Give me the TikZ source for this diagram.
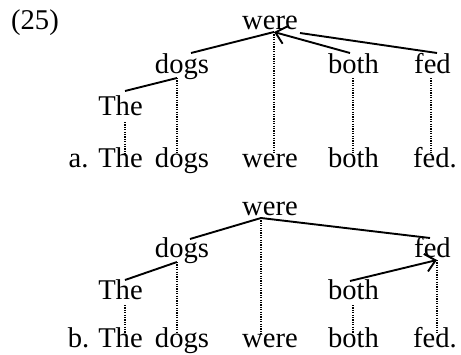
\documentclass[tikz,border=0pt]{standalone}
\usepackage{fontspec}
\setmainfont{Liberation Serif}
\usetikzlibrary{arrows.meta}

\begin{document}
\begin{tikzpicture}[x=0.5pt, y=-0.5pt,
    word/.style={anchor=base, inner sep=0pt, text height=0.66em, text depth=0.22em,
                 font=\fontsize{14.3}{17}\selectfont},
    dep/.style={line width=0.95pt},
    arc/.style={dep, -{Straight Barb[length=5pt,width=9pt]}},
    proj/.style={line width=0.8pt, dash pattern=on 0.6pt off 0.6pt}]
    \useasboundingbox (0,0) rectangle (461,354);

    % Albero (a)
    \node[word] (num) at (35,29) {(25)};
    \node[word] (wereA) at (270,29) {were};
    \node[word] (dogsA) at (182,73) {dogs};
    \node[word] (bothA) at (353.5,73) {both};
    \node[word] (fedA) at (432.5,73) {fed};
    \node[word] (TheA) at (120.5,115) {The};

    % Frase (a)
    \node[word] (labA) at (78.5,167) {a.};
    \node[word] (sTheA) at (120.5,167) {The};
    \node[word] (sdogsA) at (182,167) {dogs};
    \node[word] (swereA) at (270,167) {were};
    \node[word] (sbothA) at (353.5,167) {both};
    \node[word] (sfedA) at (435,167) {fed.};

    % Punti di attacco (a)
    \coordinate (wereA-dn) at (274,32);
    \coordinate (wereA-rt) at (300,33);
    \coordinate (dogsA-up) at (191,53);
    \coordinate (dogsA-dn) at (177,78);
    \coordinate (TheA-up) at (125,91);
    \coordinate (TheA-dn) at (125,122);
    \coordinate (bothA-up) at (350,53);
    \coordinate (bothA-dn) at (353,78);
    \coordinate (fedA-up) at (437,53);
    \coordinate (fedA-dn) at (431,78);

    % Dipendenze (a)
    \draw[dep] (wereA-dn) -- (dogsA-up);
    \draw[dep] (dogsA-dn) -- (TheA-up);
    \draw[arc] (bothA-up) -- (wereA-dn);
    \draw[dep] (fedA-up) -- (wereA-rt);

    % Proiezioni (a)
    \draw[proj] (TheA-dn) -- (TheA-dn |- sTheA.north);
    \draw[proj] (dogsA-dn) -- (dogsA-dn |- sdogsA.north);
    \draw[proj] (wereA-dn) -- (wereA-dn |- swereA.north);
    \draw[proj] (bothA-dn) -- (bothA-dn |- sbothA.north);
    \draw[proj] (fedA-dn) -- (fedA-dn |- sfedA.north);

    % Albero (b)
    \node[word] (wereB) at (270,215) {were};
    \node[word] (dogsB) at (182,257) {dogs};
    \node[word] (fedB) at (432.5,257) {fed};
    \node[word] (TheB) at (120.5,299) {The};
    \node[word] (bothB) at (353.5,299) {both};

    % Frase (b)
    \node[word] (labB) at (78.5,347) {b.};
    \node[word] (sTheB) at (120.5,347) {The};
    \node[word] (sdogsB) at (182,347) {dogs};
    \node[word] (swereB) at (270,347) {were};
    \node[word] (sbothB) at (353.5,347) {both};
    \node[word] (sfedB) at (435,347) {fed.};

    % Punti di attacco (b)
    \coordinate (wereB-dn) at (261,218);
    \coordinate (dogsB-up) at (190,239);
    \coordinate (dogsB-dn) at (177,262);
    \coordinate (TheB-up) at (125,280);
    \coordinate (TheB-dn) at (125,305);
    \coordinate (fedB-up) at (430,238);
    \coordinate (fedB-dn) at (437,260);
    \coordinate (bothB-up) at (350,281);
    \coordinate (bothB-dn) at (353,305);

    % Dipendenze (b)
    \draw[dep] (wereB-dn) -- (dogsB-up);
    \draw[dep] (wereB-dn) -- (fedB-up);
    \draw[dep] (dogsB-dn) -- (TheB-up);
    \draw[arc] (bothB-up) -- (fedB-dn);

    % Proiezioni (b)
    \draw[proj] (TheB-dn) -- (TheB-dn |- sTheB.north);
    \draw[proj] (dogsB-dn) -- (dogsB-dn |- sdogsB.north);
    \draw[proj] (wereB-dn) -- (wereB-dn |- swereB.north);
    \draw[proj] (bothB-dn) -- (bothB-dn |- sbothB.north);
    \draw[proj] (fedB-dn) -- (fedB-dn |- sfedB.north);
\end{tikzpicture}
\end{document}
